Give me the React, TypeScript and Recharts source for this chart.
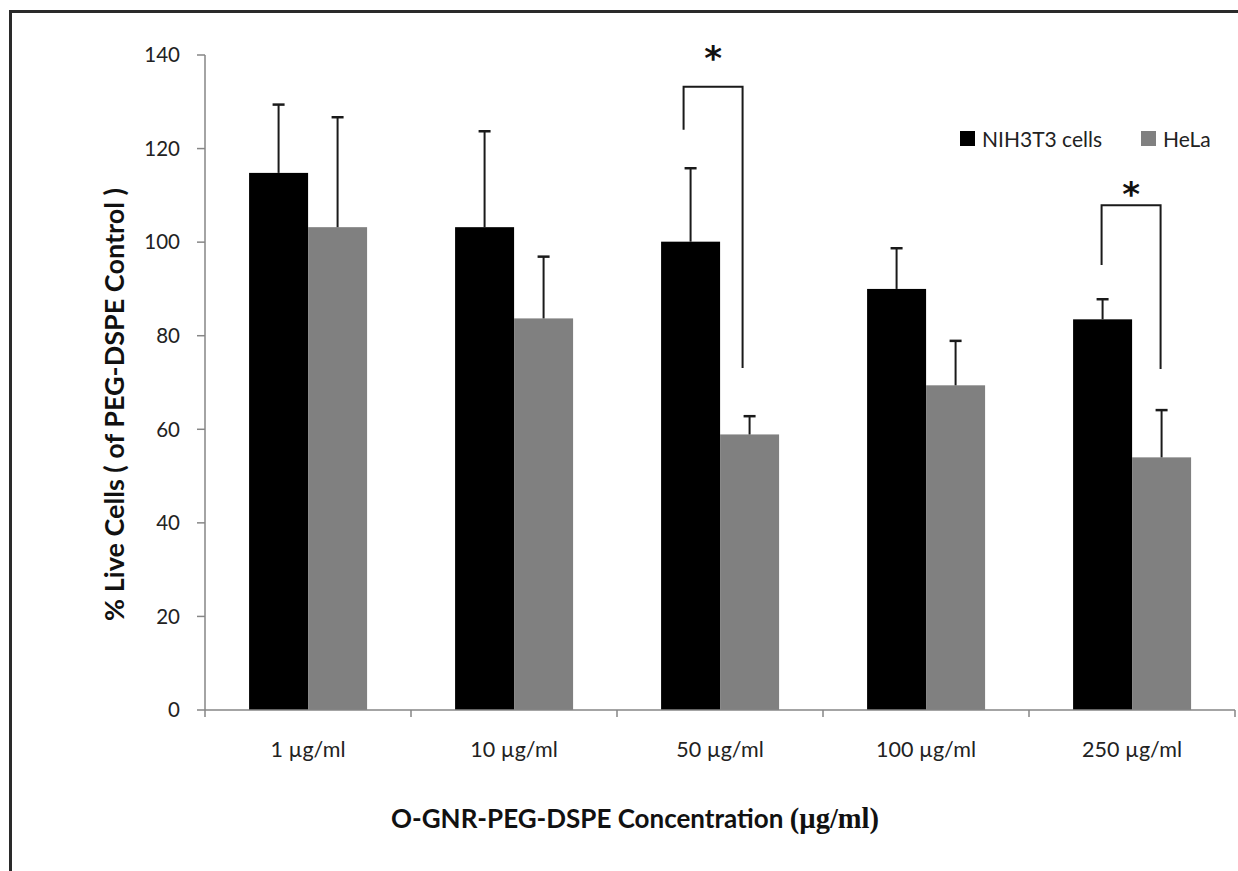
import React from 'react';
import { BarChart, Bar, XAxis, YAxis } from 'recharts';

// Cell viability per concentration (mean % of PEG-DSPE control, upper SD only)
const concentrations = ['1 µg/ml', '10 µg/ml', '50 µg/ml', '100 µg/ml', '250 µg/ml'];
const nih3t3 = [114.8, 103.2, 100.1, 90.0, 83.5];
const nih3t3Err = [14.6, 20.5, 15.7, 8.7, 4.3];
const hela = [103.2, 83.7, 58.9, 69.4, 54.0];
const helaErr = [23.5, 13.2, 3.9, 9.5, 10.1];
const yTicks = [0, 20, 40, 60, 80, 100, 120, 140];

const series = [
  { key: 'nih', errKey: 'nihErr', name: 'NIH3T3 cells', color: '#000000' },
  { key: 'hela', errKey: 'helaErr', name: 'HeLa', color: '#808080' },
];

// significance brackets between the two bars of a group (y in % units)
const sigBrackets = [
  { group: '50 µg/ml', top: 133.2, leftEnd: 124.0, rightEnd: 73.1, star: 136.7, nudge: -7 },
  { group: '250 µg/ml', top: 107.9, leftEnd: 95.1, rightEnd: 72.9, star: 107.8, nudge: -1 },
];

const data = concentrations.map((c, i) => ({
  name: c,
  nih: nih3t3[i],
  nihErr: nih3t3Err[i],
  hela: hela[i],
  helaErr: helaErr[i],
}));

const AXIS_GREY = '#868686';
const INK = '#1a1a1a';
const FONT = 'Lato, "Open Sans", sans-serif';

// bar with a one-sided (upward) error whisker; the second series also carries
// the significance bracket spanning back to the first bar of its group
const whiskerBar = (valueKey: string, errKey: string, withBracket: boolean) => (props: any) => {
  const { x, y, width, height, fill, payload } = props;
  const v = payload[valueKey];
  const err = payload[errKey];
  const pxPerUnit = v ? height / v : 0;
  const base = y + height;
  const toY = (val: number) => base - val * pxPerUnit;
  const cx = x + width / 2;
  const top = y - err * pxPerUnit;
  const br = withBracket ? sigBrackets.find((b) => b.group === payload.name) : undefined;
  let bracket = null;
  if (br) {
    const xl = cx - width + br.nudge;
    const xr = cx + br.nudge;
    const yt = toY(br.top);
    bracket = (
      <g>
        <polyline
          points={`${xl},${toY(br.leftEnd)} ${xl},${yt} ${xr},${yt} ${xr},${toY(br.rightEnd)}`}
          fill="none"
          stroke={INK}
          strokeWidth={2}
        />
        <text
          x={(xl + xr) / 2}
          y={toY(br.star)}
          textAnchor="middle"
          fontSize={34}
          fontWeight="bold"
          fill="#111"
          fontFamily='"DejaVu Sans", sans-serif'
        >
          *
        </text>
      </g>
    );
  }
  return (
    <g>
      <rect x={x} y={y} width={width} height={height} fill={fill} />
      <line x1={cx} x2={cx} y1={y} y2={top} stroke={INK} strokeWidth={2} />
      <line x1={cx - 6} x2={cx + 6} y1={top} y2={top} stroke={INK} strokeWidth={2.5} />
      {bracket}
    </g>
  );
};

function ConcentrationTick(props: any) {
  const { x, y, payload } = props;
  const half = payload.offset ?? 0;
  return (
    <g>
      <line x1={x + half} x2={x + half} y1={y} y2={y + 7} stroke={AXIS_GREY} strokeWidth={1.5} />
      {payload.index === 0 && (
        <line x1={x - half} x2={x - half} y1={y} y2={y + 7} stroke={AXIS_GREY} strokeWidth={1.5} />
      )}
      <text x={x} y={y + 47} textAnchor="middle" fontSize={21.5} fill="#222" fontFamily={FONT}>
        {payload.value}
      </text>
    </g>
  );
}

export default function App() {
  return (
    <div
      style={{
        position: 'absolute',
        left: 0,
        top: 0,
        width: 1238,
        height: 871,
        overflow: 'hidden',
        background: '#fff',
        fontFamily: FONT,
      }}
    >
      <div
        style={{
          position: 'absolute',
          left: 9,
          top: 10,
          width: 1300,
          height: 900,
          borderTop: '3px solid #2a2a2a',
          borderLeft: '3px solid #2a2a2a',
        }}
      />
      <BarChart
        width={1238}
        height={871}
        data={data}
        margin={{ top: 55, right: 3, bottom: 101, left: 125 }}
        barCategoryGap="21.4%"
        barGap={0}
        style={{ position: 'absolute', left: 0, top: 0 }}
      >
        <XAxis
          dataKey="name"
          height={60}
          stroke={AXIS_GREY}
          strokeWidth={1.5}
          tickLine={false}
          tickSize={0}
          tickMargin={0}
          interval={0}
          tick={<ConcentrationTick />}
          label={{
            content: (p: any) => {
              const vb = p.viewBox;
              return (
                <text
                  x={vb.x + vb.width / 2 - 85}
                  y={vb.y + 118}
                  textAnchor="middle"
                  fontSize={26}
                  fontWeight="bold"
                  fill="#111"
                  fontFamily={FONT}
                >
                  O-GNR-PEG-DSPE Concentration{' '}
                  <tspan fontFamily='"Liberation Serif", "Times New Roman", serif' fontSize={28.5}>
                    (µg/ml)
                  </tspan>
                </text>
              );
            },
          }}
        />
        <YAxis
          width={80}
          domain={[0, 140]}
          ticks={yTicks}
          interval={0}
          stroke={AXIS_GREY}
          strokeWidth={1.5}
          tickSize={8}
          tickMargin={17}
          tick={{ fill: '#222', fontSize: 20.5, fontFamily: FONT }}
          label={{
            content: (p: any) => {
              const vb = p.viewBox;
              const cx = vb.x - 12;
              const cy = vb.y + vb.height / 2 + 22;
              return (
                <text
                  x={cx}
                  y={cy}
                  transform={`rotate(-90 ${cx} ${cy})`}
                  textAnchor="middle"
                  dominantBaseline="central"
                  fontSize={27}
                  fontWeight="bold"
                  fill="#111"
                  fontFamily={FONT}
                >
                  % Live Cells ( of PEG-DSPE Control )
                </text>
              );
            },
          }}
        />
        {series.map((s, i) => (
          <Bar
            key={s.key}
            dataKey={s.key}
            name={s.name}
            fill={s.color}
            isAnimationActive={false}
            shape={whiskerBar(s.key, s.errKey, i === 1)}
          />
        ))}
      </BarChart>
      <div
        style={{
          position: 'absolute',
          left: 960,
          top: 126,
          display: 'flex',
          alignItems: 'center',
          fontSize: 21,
          color: '#222',
        }}
      >
        {series.map((s, i) => (
          <div key={s.key} style={{ display: 'flex', alignItems: 'center', marginRight: i === 0 ? 39 : 0 }}>
            <span style={{ display: 'inline-block', width: 15, height: 15, background: s.color, marginRight: 7 }} />
            <span>{s.name}</span>
          </div>
        ))}
      </div>
    </div>
  );
}
